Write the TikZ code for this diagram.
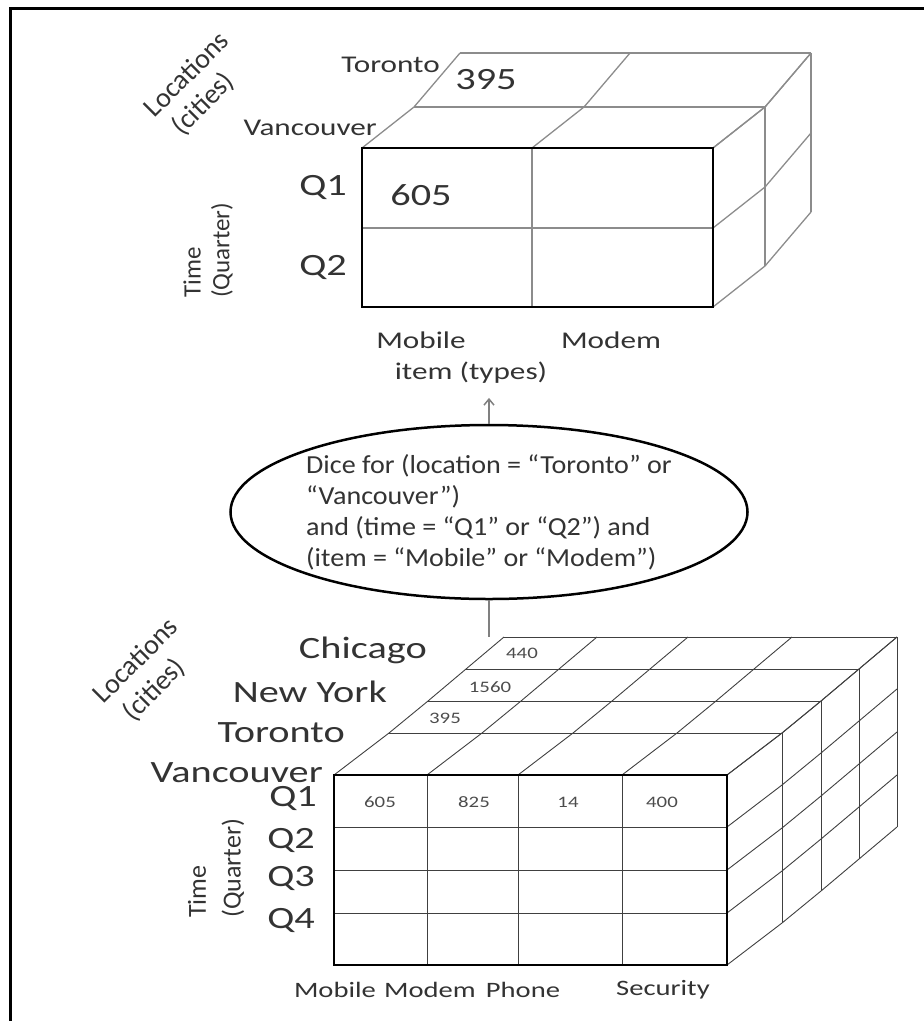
\documentclass[tikz,border=0pt]{standalone}
\usepackage{fontspec}
\setmainfont{Carlito}
\newfontfamily\lblfont[FakeStretch=1.3]{Carlito}
\newfontfamily\dicefont[FakeStretch=1.08]{Carlito}
\usetikzlibrary{arrows.meta,shapes.geometric}

\begin{document}
\begin{tikzpicture}[x=1pt, y=-1pt,
  lbl/.style={font=\lblfont\fontsize{24}{26}\selectfont, text=black!80, inner sep=0pt},
  big/.style={lbl, font=\lblfont\fontsize{31}{33}\selectfont},
  itm/.style={lbl, font=\lblfont\fontsize{22}{24}\selectfont},
  num/.style={lbl, font=\lblfont\fontsize{16}{18}\selectfont, text=black!70},
  axis/.style={font=\fontsize{25}{27}\selectfont, text=black!80, inner sep=0pt},
  diag/.style={axis, rotate=45, font=\fontsize{28}{29}\selectfont},
  vert/.style={axis, rotate=90, anchor=west},
  dice/.style={draw, ellipse, line width=2.5pt, align=left, inner sep=0pt,
    minimum width=512pt, minimum height=174pt, text=black!80,
    font=\dicefont\fontsize{26}{31}\selectfont},
  tgrid/.style={black!45, line width=1.3pt},
  bgrid/.style={black!75, line width=0.9pt},
  front/.style={black, line width=2.8pt},
  arr/.style={-{Straight Barb[length=6pt,width=10pt]}, black!50, line width=1.5pt},
]
  \useasboundingbox (0,0) rectangle (924,1021);
  % frame
  \draw[line width=3pt] (10,1021) -- (10,8) -- (924,8);

  % upper cube (result of the dice)
  \foreach \dx/\dy in {52/-41,98/-95}
    \draw[tgrid] (362+\dx,148+\dy) -- (713+\dx,148+\dy);
  \foreach \x in {362,532,713}
    \draw[tgrid] (\x,148) -- (\x+52,107) -- (\x+98,53);
  \foreach \dx/\dy in {52/-41,98/-95}
    \draw[tgrid] (713+\dx,148+\dy) -- (713+\dx,307+\dy);
  \foreach \y in {148,228,307}
    \draw[tgrid] (713,\y) -- (765,\y-41) -- (811,\y-95);
  \draw[tgrid] (532,148) -- (532,307);
  \draw[tgrid] (362,228) -- (713,228);
  \draw[front] (362,148) rectangle (713,307);

  \node[lbl, anchor=east] (torontoT) at (440,65) {Toronto};
  \node[lbl, anchor=east] (vancouverT) at (377,128) {Vancouver};
  \node[big] (valT) at (486,80) {395};
  \node[big] (valF) at (421,195) {605};
  \node[big, anchor=east] (q1T) at (347,187) {Q1};
  \node[big, anchor=east] (q2T) at (347,267) {Q2};
  \node[lbl] (mobileT) at (421,340) {Mobile};
  \node[lbl] (modemT) at (611,340) {Modem};
  \node[lbl] (itemT) at (471,373) {item (types)};
  \node[diag] (locT) at (186,74) {Locations};
  \node[diag] (citiesT) at (203,104) {(cities)};
  \node[vert] (timeT) at (192,298) {Time};
  \node[vert] (quarterT) at (222,298) {(Quarter)};

  % dice condition
  \node[dice] (dice) at (489,512) {Dice for (location = “Toronto” or\\“Vancouver”)\\and (time = “Q1” or “Q2”) and\\(item = “Mobile” or “Modem”)};
  \coordinate (cubetop) at (492,637);
  \draw[arr, shorten >=14pt] (dice) -- (dice |- itemT.south);
  \draw[black!50, line width=1.5pt] (dice) -- (dice |- cubetop);

  % lower cube (original data)
  \foreach \dx/\dy in {55/-42,94/-74,132/-106,170/-138}
    \draw[bgrid] (334+\dx,775+\dy) -- (727+\dx,775+\dy);
  \foreach \x in {334,427,518,622,727}
    \draw[bgrid] (\x,775) -- (\x+55,733) -- (\x+94,701) -- (\x+132,669) -- (\x+170,637);
  \foreach \dx/\dy in {55/-42,94/-74,132/-106,170/-138}
    \draw[bgrid] (727+\dx,775+\dy) -- (727+\dx,965+\dy);
  \foreach \y in {775,827,870,913,965}
    \draw[bgrid] (727,\y) -- (782,\y-42) -- (821,\y-74) -- (859,\y-106) -- (897,\y-138);
  \foreach \x in {427,518,622}
    \draw[bgrid] (\x,775) -- (\x,965);
  \foreach \y in {827,870,913}
    \draw[bgrid] (334,\y) -- (727,\y);
  \draw[front] (334,775) rectangle (727,965);

  \node[big, anchor=east] (chicago) at (427,650) {Chicago};
  \node[big, anchor=east] (newyork) at (387,692) {New York};
  \node[big, anchor=east] (toronto) at (345,733) {Toronto};
  \node[big, anchor=east] (vancouver) at (323,773) {Vancouver};
  \node[big, anchor=east] (q1) at (317,798) {Q1};
  \node[big, anchor=east] (q2) at (315,840) {Q2};
  \node[big, anchor=east] (q3) at (315,878) {Q3};
  \node[big, anchor=east] (q4) at (315,920) {Q4};
  \node[num] (chiMob) at (522,653) {440};
  \node[num] (nyMob) at (490,687) {1560};
  \node[num] (torMob) at (445,718) {395};
  \node[num] (vanMob) at (380,802) {605};
  \node[num] (vanMod) at (474,802) {825};
  \node[num] (vanPho) at (568,802) {14};
  \node[num] (vanSec) at (662,802) {400};
  \node[itm] (mobile) at (335,990) {Mobile};
  \node[itm] (modem) at (430,990) {Modem};
  \node[itm] (phone) at (523,990) {Phone};
  \node[itm] (security) at (663,990) {Security};
  \node[diag] (loc) at (135,660) {Locations};
  \node[diag] (cities) at (154,690) {(cities)};
  \node[vert, font=\fontsize{26}{28}\selectfont] (time) at (197,918) {Time};
  \node[vert, font=\fontsize{26}{28}\selectfont] (quarter) at (233,918) {(Quarter)};
\end{tikzpicture}
\end{document}
